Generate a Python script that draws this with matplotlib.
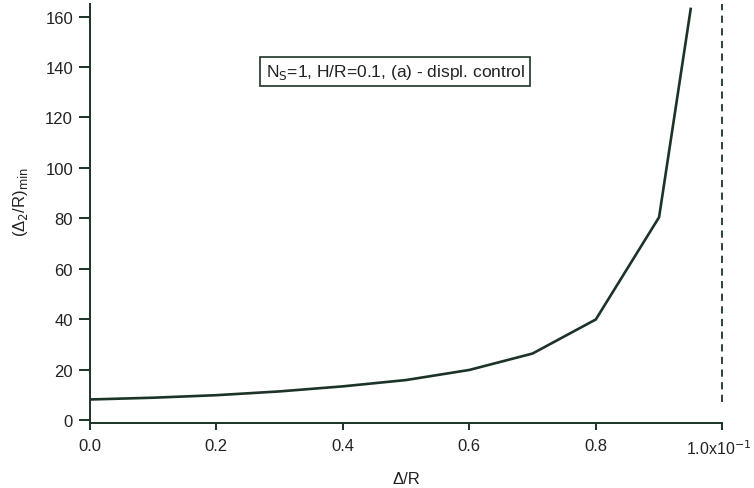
import numpy as np
import matplotlib.pyplot as plt
from matplotlib.transforms import ScaledTranslation

plt.rcParams['font.family'] = ['Liberation Sans', 'DejaVu Sans']

x = [0.0, 0.1, 0.2, 0.3, 0.4, 0.5, 0.6, 0.7, 0.8, 0.9, 0.95]
y = [8.3, 9.0, 10.0, 11.5, 13.5, 16.0, 20.0, 26.5, 40.0, 80.5, 163.0]
xticks = [0.0, 0.2, 0.4, 0.6, 0.8, 1.0]
xticklabels = ['0.0', '0.2', '0.4', '0.6', '0.8', '1.0x10$^{-1}$']
yticks = [0, 20, 40, 60, 80, 100, 120, 140, 160]

ink = '#1c3328'

fig = plt.figure(figsize=(7.54, 4.89), dpi=100)
ax = fig.add_axes([0.119, 0.133, 0.839, 0.857])

ax.plot(x, y, color=ink, lw=1.9, solid_joinstyle='miter')
ax.axvline(1.0, ymin=0.05, ymax=1.0, color=ink, lw=1.3, ls=(0, (4, 3)), clip_on=False)

ax.set_xlim(0, 1.0)
ax.set_ylim(-1, 165)
ax.set_xticks(xticks)
ax.set_xticklabels(xticklabels)
ax.set_yticks(yticks)

for s in ['top', 'right']:
    ax.spines[s].set_visible(False)
for s in ['left', 'bottom']:
    ax.spines[s].set_color(ink)
    ax.spines[s].set_linewidth(1.4)

ax.tick_params(direction='out', width=1.4, color=ink, labelsize=12,
               labelcolor='#222222')
ax.tick_params(axis='x', length=5, pad=6)
ax.tick_params(axis='y', length=8, pad=4)

# keep the last label inside the figure
last = ax.get_xticklabels()[-1]
last.set_fontsize(11.5)
last.set_transform(last.get_transform() + ScaledTranslation(-4 / 100, 0, fig.dpi_scale_trans))

ax.set_xlabel('Δ/R', fontsize=12, color='#222222', labelpad=10)
ax.set_ylabel('(Δ$_2$/R)$_{\\mathrm{min}}$', fontsize=12, color='#222222')
ax.yaxis.set_label_coords(-0.095, 0.53)

ax.text(0.483, 0.838, 'N$_\\mathrm{S}$=1, H/R=0.1, (a) - displ. control',
        transform=ax.transAxes, ha='center', va='center', fontsize=12.5, color='#222222',
        bbox=dict(boxstyle='square,pad=0.3', fc='white', ec=ink, lw=1.2))

plt.savefig('out.png', dpi=100)
